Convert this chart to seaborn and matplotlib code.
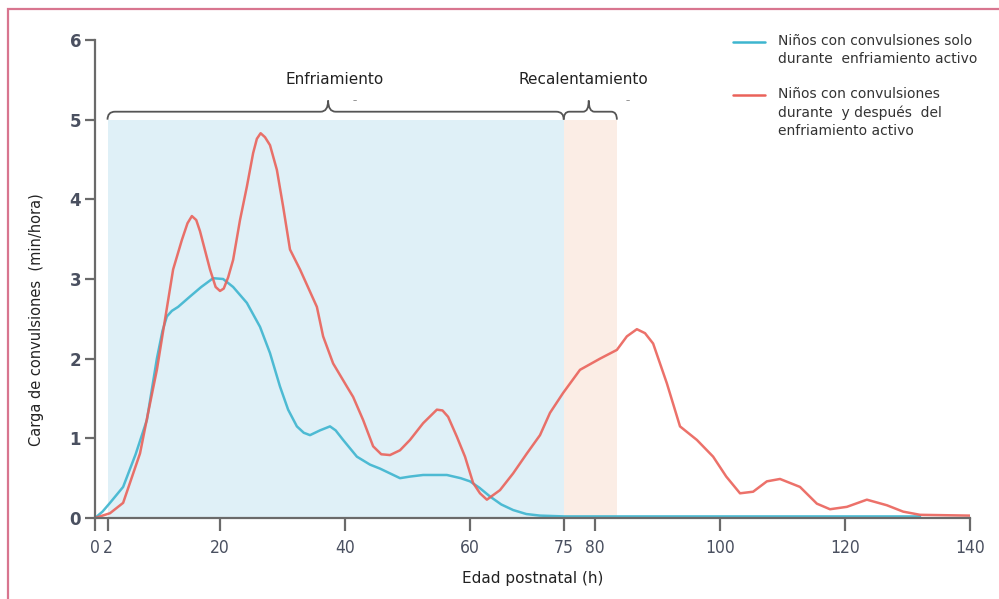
import numpy as np
import pandas as pd
import seaborn as sns
import matplotlib.pyplot as plt
from matplotlib.path import Path
from matplotlib.patches import PathPatch, Rectangle
from matplotlib.lines import Line2D

sns.set_theme(style="white")
plt.rcParams["font.family"] = ["DejaVu Sans"]

# --- data ------------------------------------------------------------------
blue_x = [0, 1.2, 2.4, 4.5, 6.5, 8.3, 9.9, 10.8, 11.5, 12.3, 13.3, 15.2, 17,
          18.9, 20.5, 22.1, 24.3, 26.4, 28, 29.6, 30.9, 32.3, 33.4, 34.4, 36,
          37.6, 38.5, 39.7, 41.9, 44, 45.6, 47.2, 48.8, 50.4, 52.5, 56.3, 58.5,
          60, 61.5, 63.2, 65, 66.9, 69, 71.2, 75, 80, 100, 120, 132]
blue_y = [0, 0.08, 0.19, 0.39, 0.8, 1.23, 2.0, 2.35, 2.53, 2.6, 2.65, 2.78,
          2.9, 3.01, 3.0, 2.9, 2.7, 2.4, 2.07, 1.65, 1.36, 1.15, 1.07, 1.04,
          1.1, 1.15, 1.1, 0.98, 0.77, 0.67, 0.62, 0.56, 0.5, 0.52, 0.54, 0.54,
          0.5, 0.46, 0.38, 0.27, 0.17, 0.1, 0.05, 0.03, 0.02, 0.02, 0.02,
          0.02, 0.02]

red_x = [0, 2.4, 4.5, 7.2, 8.5, 9.9, 11.2, 12.5, 13.9, 14.8, 15.5, 16.2, 16.8,
         17.3, 18.4, 19.3, 20, 20.6, 21.3, 22.1, 23.2, 24.3, 25.3, 25.9, 26.5,
         27.2, 28, 29.1, 30.1, 31.2, 32.8, 35.5, 36.5, 38.1, 40.3, 41.3, 42.9,
         44.5, 45.8, 47.2, 48.8, 50.4, 52.5, 54.7, 55.6, 56.5, 57.9, 59.2,
         60.5, 61.6, 62.7, 64.8, 66.9, 69.1, 71.2, 72.8, 74.9, 77.6, 80.8,
         83.5, 85.1, 86.7, 88, 89.3, 91.5, 93.6, 96.3, 98.9, 101, 103.2, 105.3,
         107.5, 109.6, 112.8, 115.5, 117.6, 120.3, 123.5, 126.7, 129.3, 132,
         140]
red_y = [0, 0.06, 0.19, 0.81, 1.32, 1.86, 2.49, 3.12, 3.49, 3.7, 3.79, 3.74,
         3.6, 3.45, 3.12, 2.9, 2.85, 2.88, 3.02, 3.24, 3.74, 4.16, 4.58, 4.76,
         4.83, 4.78, 4.68, 4.37, 3.91, 3.37, 3.12, 2.65, 2.28, 1.94, 1.65,
         1.52, 1.23, 0.9, 0.8, 0.79, 0.85, 0.98, 1.19, 1.36, 1.35, 1.27, 1.02,
         0.77, 0.44, 0.31, 0.23, 0.35, 0.56, 0.81, 1.04, 1.32, 1.57, 1.86, 2.0,
         2.11, 2.28, 2.37, 2.32, 2.19, 1.69, 1.15, 0.98, 0.77, 0.52, 0.31,
         0.33, 0.46, 0.49, 0.39, 0.18, 0.11, 0.14, 0.23, 0.16, 0.08, 0.04,
         0.03]

blue_label = "Niños con convulsiones solo\ndurante  enfriamiento activo"
red_label = "Niños con convulsiones\ndurante  y después  del\nenfriamiento activo"

cooling_span = [2, 75]
rewarm_span = [75, 83.5]
span_top = 5
cooling_tip = 37.3
rewarm_tip = 79

x_ticks = [0, 2, 20, 40, 60, 75, 80, 100, 120, 140]
y_ticks = [0, 1, 2, 3, 4, 5, 6]

BLUE = "#3db5cf"
RED = "#ea625a"

df = pd.concat([
    pd.DataFrame({"x": blue_x, "y": blue_y, "grupo": "blue"}),
    pd.DataFrame({"x": red_x, "y": red_y, "grupo": "red"}),
])

fig = plt.figure(figsize=(9.99, 5.99), dpi=100)
ax = fig.add_axes([95 / 999, 81 / 599, 875 / 999, 478 / 599])

ax.fill_between(cooling_span, 0, span_top, color="#dff0f7", lw=0, zorder=0)
ax.fill_between(rewarm_span, 0, span_top, color="#fbede5", lw=0, zorder=0)

sns.lineplot(data=df, x="x", y="y", hue="grupo", palette={"blue": BLUE, "red": RED},
             hue_order=["blue", "red"], lw=1.8, alpha=0.9, legend=False,
             estimator=None, ax=ax)
for ln in ax.lines:
    ln.set_solid_joinstyle("round")


def brace(x0, x1, xm, b=5.0, m=5.1, t=5.24, r=1.2):
    verts = [(x0, b), (x0, m), (x0 + r, m), (xm - r, m), (xm, m), (xm, t),
             (xm, m), (xm + r, m), (x1 - r, m), (x1, m), (x1, b)]
    codes = [Path.MOVETO, Path.CURVE3, Path.CURVE3, Path.LINETO, Path.CURVE3,
             Path.CURVE3, Path.CURVE3, Path.CURVE3, Path.LINETO, Path.CURVE3,
             Path.CURVE3]
    ax.add_patch(PathPatch(Path(verts, codes), fc="none", ec="#555555",
                           lw=1.3, clip_on=False))


brace(cooling_span[0], cooling_span[1], cooling_tip)
brace(rewarm_span[0], rewarm_span[1], rewarm_tip, r=0.9)
ax.text(38.4, 5.5, "Enfriamiento", ha="center", va="center", fontsize=11,
        color="#222222")
ax.text(78.2, 5.5, "Recalentamiento", ha="center", va="center", fontsize=11,
        color="#222222")
ax.text(41.6, 5.24, "–", ha="center", va="center", fontsize=6, color="#777777")
ax.text(85.3, 5.24, "–", ha="center", va="center", fontsize=6, color="#777777")

ax.set_xlim(0, 140)
ax.set_ylim(0, 6)
ax.set_xticks(x_ticks)
ax.set_yticks(y_ticks)
for s in ["top", "right"]:
    ax.spines[s].set_visible(False)
for s in ["left", "bottom"]:
    ax.spines[s].set_color("#6a6a6a")
    ax.spines[s].set_linewidth(1.6)
ax.tick_params(axis="x", bottom=True, direction="out", length=9, width=1.6,
               color="#6a6a6a", pad=6, labelsize=12.5, labelcolor="#4a5060")
ax.tick_params(axis="y", left=True, direction="out", length=7, width=1.6,
               color="#6a6a6a", pad=3, labelsize=12, labelcolor="#4a5060")
for lab in ax.get_xticklabels():
    lab.set_fontstretch("condensed")
for lab in ax.get_yticklabels():
    lab.set_fontweight("bold")

ax.set_xlabel("Edad postnatal (h)", fontsize=11, color="#222222", labelpad=10)
ax.set_ylabel("Carga de convulsiones  (min/hora)", fontsize=10.5,
              color="#222222")
ax.yaxis.set_label_coords(-0.058, 0.415)

# legend drawn by hand so the handle sits on the first text line
for y_px, col, lab in [(42, BLUE, blue_label), (95, RED, red_label)]:
    yf = 1 - y_px / 599
    fig.add_artist(Line2D([733 / 999, 765 / 999], [yf, yf], color=col, lw=1.8))
    fig.text(778 / 999, yf + 8 / 599, lab, ha="left", va="top", fontsize=10,
             color="#333333", linespacing=1.38)

# pink frame of the original slide
fig.add_artist(Rectangle((8 / 999, -0.1), 1.2, 1 - 9 / 599 + 0.1,
                         transform=fig.transFigure, fill=False,
                         ec="#d8758f", lw=1.6))

fig.savefig("out.png", dpi=100)
